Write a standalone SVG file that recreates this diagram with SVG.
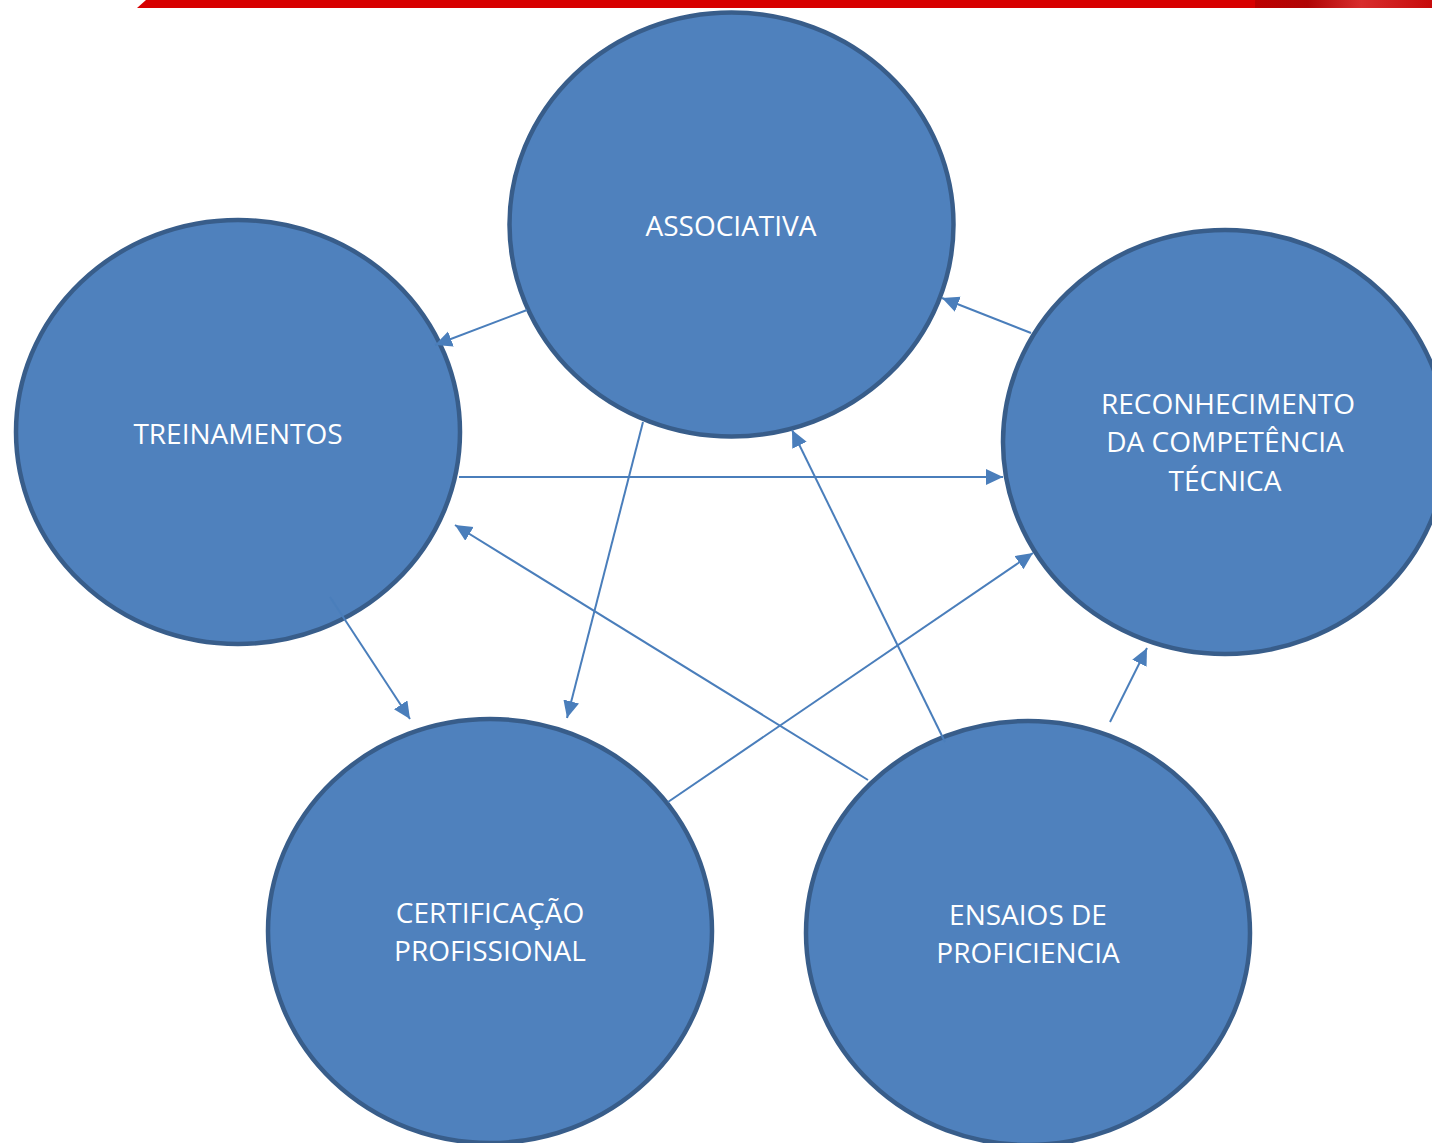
<svg xmlns="http://www.w3.org/2000/svg" width="1432" height="1143" viewBox="0 0 1432 1143">
<style>
.node{fill:#4f81bd;stroke:#385d8a;stroke-width:4.5}
.lbl{fill:#ffffff;font-family:"Open Sans","Liberation Sans",sans-serif;font-size:28px;text-anchor:middle}
.con{stroke:#4a7ebb;stroke-width:2;fill:none;marker-end:url(#ah)}
</style>
<defs>
<marker id="ah" markerUnits="userSpaceOnUse" markerWidth="20" markerHeight="18" refX="17" refY="8" orient="auto">
<path d="M0,0 L17,8 L0,16 Z" fill="#4a7ebb"/>
</marker>
<linearGradient id="rg" x1="0" y1="0" x2="1" y2="0">
<stop offset="0" stop-color="#b00000"/>
<stop offset="0.3" stop-color="#a00808"/>
<stop offset="0.6" stop-color="#d84040"/>
<stop offset="1" stop-color="#c01010"/>
</linearGradient>
</defs>
<rect width="1432" height="1143" fill="#ffffff"/>
<polygon points="146,0 1432,0 1432,8 137,8" fill="#d70000"/>
<rect x="1255" y="0" width="177" height="8" fill="url(#rg)" opacity="0.7"/>
<g id="associativa">
<ellipse class="node" cx="731.5" cy="224.5" rx="222" ry="212"/>
<text class="lbl" x="731" y="236">ASSOCIATIVA</text>
</g>
<g id="treinamentos">
<ellipse class="node" cx="238" cy="432" rx="222" ry="212"/>
<text class="lbl" x="238" y="444">TREINAMENTOS</text>
</g>
<g id="reconhecimento">
<ellipse class="node" cx="1225" cy="442" rx="222" ry="212"/>
<text class="lbl" x="1228" y="414">RECONHECIMENTO</text>
<text class="lbl" x="1225" y="452">DA COMPETÊNCIA</text>
<text class="lbl" x="1225" y="491">TÉCNICA</text>
</g>
<g id="certificacao">
<ellipse class="node" cx="490" cy="931" rx="222" ry="212"/>
<text class="lbl" x="490" y="923">CERTIFICAÇÃO</text>
<text class="lbl" x="490" y="961">PROFISSIONAL</text>
</g>
<g id="ensaios">
<ellipse class="node" cx="1028" cy="933" rx="222" ry="212"/>
<text class="lbl" x="1028" y="925">ENSAIOS DE</text>
<text class="lbl" x="1028" y="963">PROFICIENCIA</text>
</g>
<g id="connectors">
<line class="con" x1="527" y1="310" x2="435" y2="345"/>
<line class="con" x1="1031" y1="333" x2="942" y2="298"/>
<line class="con" x1="459" y1="477" x2="1003" y2="477"/>
<line class="con" x1="868" y1="780" x2="455" y2="525"/>
<line class="con" x1="668" y1="802" x2="1033" y2="553"/>
<line class="con" x1="945" y1="742" x2="792" y2="430"/>
<line class="con" x1="643" y1="422" x2="567" y2="718"/>
<line class="con" x1="330" y1="597" x2="410" y2="719"/>
<line class="con" x1="1110" y1="722" x2="1147" y2="648"/>
</g>
</svg>
